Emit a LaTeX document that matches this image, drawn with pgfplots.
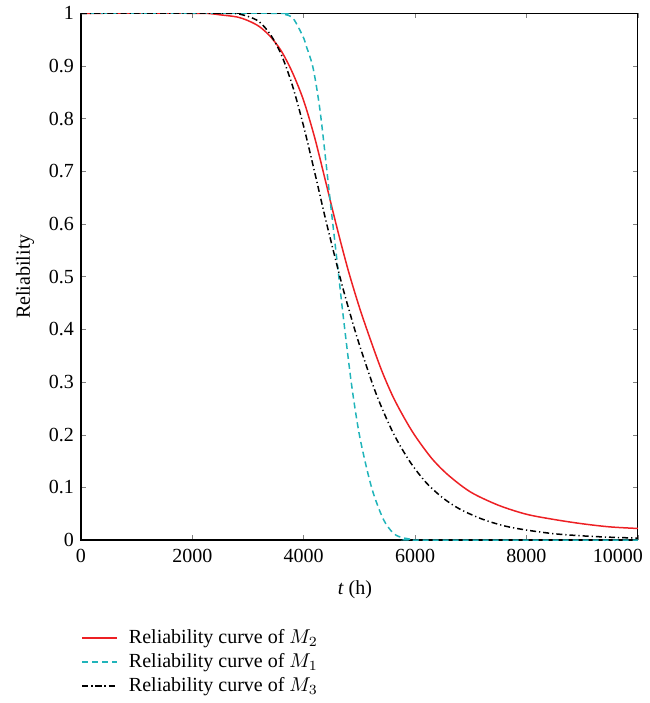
\documentclass[border=0pt]{standalone}
\usepackage{fontspec}
\setmainfont{Liberation Serif}
\usepackage{pgfplots}
\pgfplotsset{compat=1.18}

\definecolor{mred}{RGB}{237,32,36}
\definecolor{mcyan}{RGB}{32,180,186}

\begin{document}
\fontsize{10}{12}\selectfont
\begin{tikzpicture}
\begin{axis}[
    name=ax,
    scale only axis,
    width=278.5pt,
    height=263.5pt,
    xmin=0, xmax=10000,
    ymin=0, ymax=1,
    scaled x ticks=false,
    xtick={0,2000,4000,6000,8000},
    extra x ticks={10000},
    extra x tick style={xticklabel style={xshift=-10pt}},
    ytick={0,0.1,...,1.0},
    yticklabels={0,0.1,0.2,0.3,0.4,0.5,0.6,0.7,0.8,0.9,1},
    tick align=inside,
    major tick length=2.5pt,
    xtick pos=both, ytick pos=both,
    /pgf/number format/1000 sep={},
    /pgf/number format/assume math mode=true,
    tick label style={font=\fontsize{10}{12}\selectfont},
    xticklabel style={yshift=-1pt},
    axis line style={line width=0.7pt},
    xlabel={\textit{t} (h)},
    ylabel={Reliability},
    every axis x label/.style={at={(axis description cs:0.492,-0.095)},anchor=center},
    every axis y label/.style={at={(axis description cs:-0.1005,0.5)},anchor=center,rotate=90},
    legend style={draw=none, fill=none, at={(axis description cs:0,0)}, anchor=north west,
        yshift=-40.5pt, xshift=-3pt, row sep=-0.5pt, font=\fontsize{10}{12}\selectfont,
        legend cell align=left,
        /tikz/every odd column/.append style={column sep=4pt}},
]
\addplot[mred, line width=0.75pt, smooth] coordinates {
(0,1) (2000,1) (2300,0.9995) (2500,0.997) (2800,0.993) (3000,0.986) (3200,0.975)
(3400,0.956) (3600,0.928) (3800,0.887) (4000,0.834) (4200,0.763) (4400,0.678)
(4600,0.592) (4800,0.512) (5000,0.442) (5200,0.38) (5400,0.322) (5600,0.273)
(5800,0.233) (6000,0.198) (6300,0.155) (6600,0.123) (7000,0.091) (7500,0.066)
(8000,0.049) (8500,0.039) (9000,0.031) (9500,0.025) (10000,0.022)
};
\addlegendentry{Reliability curve of $M_2$}
\addplot[mcyan, line width=0.75pt, smooth, dash pattern=on 3pt off 2pt] coordinates {
(0,1) (3400,1) (3650,0.998) (3812,0.99) (3991,0.955) (4052,0.936) (4171,0.895)
(4300,0.81) (4470,0.65) (4620,0.51) (4710,0.425) (4860,0.295) (5009,0.195)
(5219,0.10) (5428,0.04) (5600,0.014) (5727,0.006) (5900,0.002) (6100,0) (10000,0)
};
\addlegendentry{Reliability curve of $M_1$}
\addplot[black, line width=0.75pt, smooth, dash pattern=on 3pt off 1.5pt on 0.6pt off 1.5pt] coordinates {
(0,1) (2500,1) (2800,0.999) (3000,0.994) (3200,0.984) (3400,0.96) (3600,0.921)
(3800,0.862) (4000,0.785) (4200,0.697) (4400,0.606) (4650,0.5) (4800,0.442)
(5000,0.371) (5300,0.278) (5600,0.205) (5900,0.15) (6200,0.109) (6500,0.08)
(6800,0.059) (7200,0.04) (7600,0.027) (8000,0.019) (8500,0.012) (9000,0.008)
(9500,0.0054) (10000,0.0037)
};
\addlegendentry{Reliability curve of $M_3$}
\end{axis}
\path (ax.south west) ++(-40.5pt,-81.5pt) coordinate (bl);
\path (ax.north east) ++(6pt,6.5pt) coordinate (tr);
\useasboundingbox (bl) rectangle (tr);
\end{tikzpicture}
\end{document}
